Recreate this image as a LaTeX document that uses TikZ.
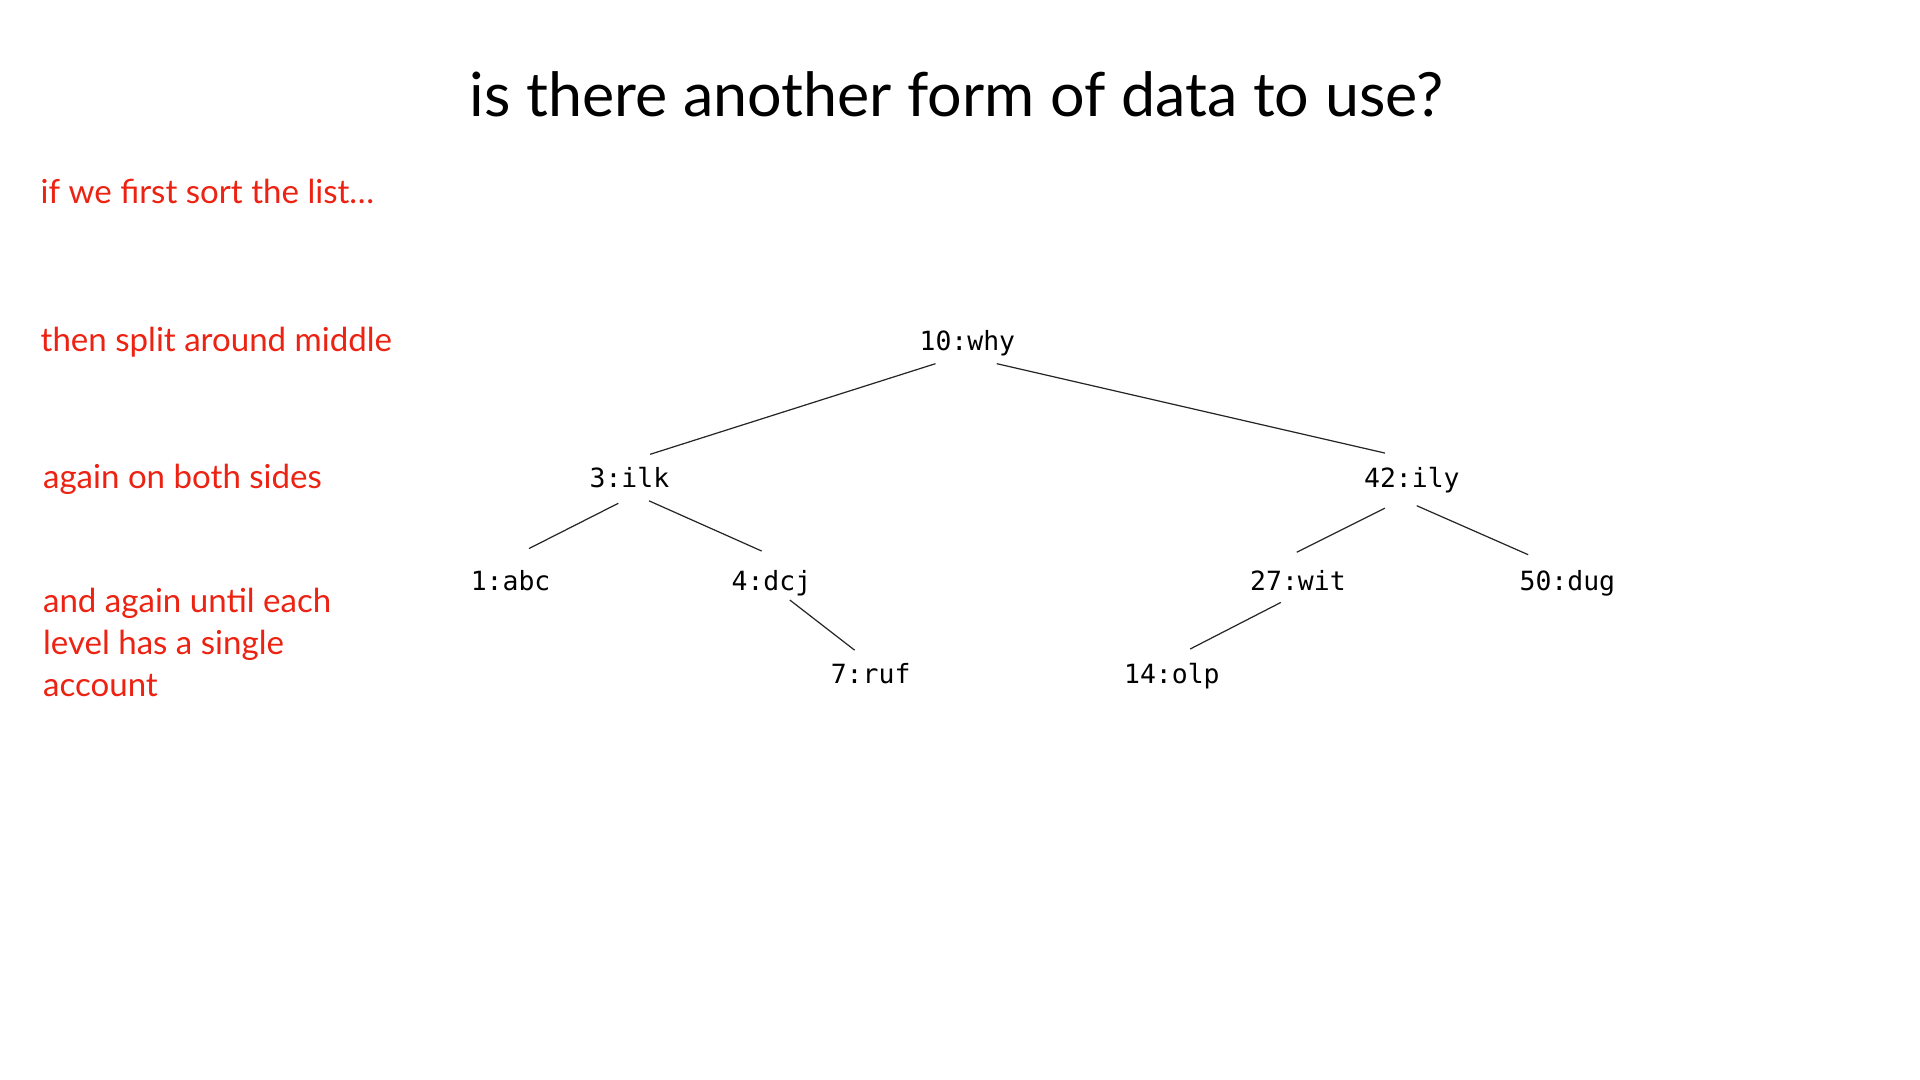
\documentclass[tikz,border=0pt]{standalone}
\usepackage{fontspec}
\setmainfont{Lato}
\newfontfamily\acctfont{DejaVu Sans Mono}
\definecolor{noteRed}{RGB}{236,34,18}
\newcommand{\lk}[4]{\draw[edge] ([shift={(#2)}]#1.base) -- ([shift={(#4)}]#3.base);}

\begin{document}
\begin{tikzpicture}[x=1pt,y=-1pt,
  acct/.style={font=\acctfont\fontsize{21.6}{26}\selectfont, inner sep=0pt, anchor=base},
  note/.style={text=noteRed, font=\fontsize{27}{34.2}\selectfont, inner sep=0pt, anchor=base west, align=left},
  edge/.style={draw=black!85, line width=1pt}]
  \useasboundingbox (0,0) rectangle (1568,882);
  \node[font=\fontsize{49.8}{60}\selectfont, inner sep=0pt, anchor=base] (title) at (781,95) {is there another form of data to use?};
  % notes down the left
  \node[note] (sort)  at (33,166) {if we first sort the list…};
  \node[note] (split) at (33,287) {then split around middle};
  \node[note] (sides) at (35,399) {again on both sides};
  \node[note, anchor=north west] (each) at (35,480) {and again until each\\level has a single\\account};
  % the tree
  \node[acct] (why) at (790,286)  {10:why};
  \node[acct] (ilk) at (514,398)  {3:ilk};
  \node[acct] (ily) at (1153,398) {42:ily};
  \node[acct] (abc) at (417,482)  {1:abc};
  \node[acct] (dcj) at (630,482)  {4:dcj};
  \node[acct] (wit) at (1060,482) {27:wit};
  \node[acct] (dug) at (1280,482) {50:dug};
  \node[acct] (ruf) at (711,558)  {7:ruf};
  \node[acct] (olp) at (957,558)  {14:olp};
  \lk{why}{-26,11}{ilk}{17,-27}
  \lk{why}{24,11}{ily}{-22,-28}
  \lk{ilk}{-9,13}{abc}{15,-34}
  \lk{ilk}{16,11}{dcj}{-8,-32}
  \lk{dcj}{15,8}{ruf}{-13,-27}
  \lk{ily}{-22,17}{wit}{-1,-31}
  \lk{ily}{4,15}{dug}{-32,-29}
  \lk{wit}{-14,10}{olp}{15,-28}
\end{tikzpicture}
\end{document}
